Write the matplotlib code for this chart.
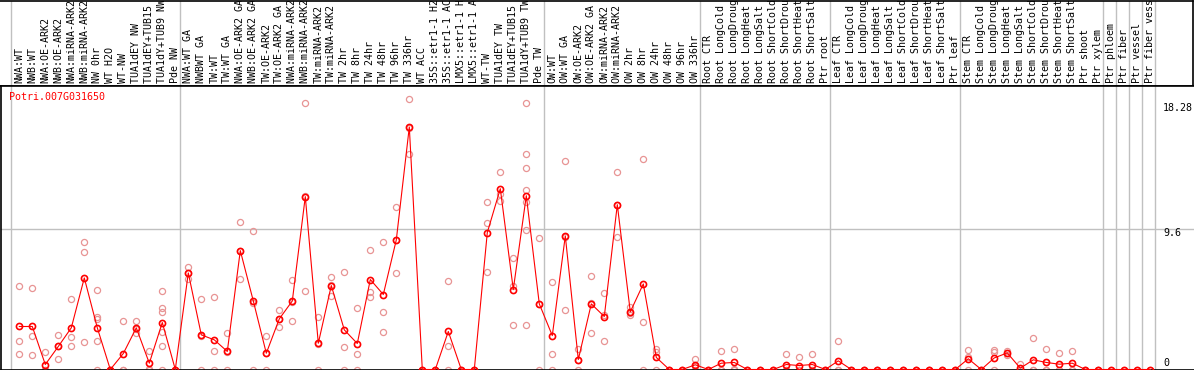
import matplotlib
matplotlib.use("Agg")
import matplotlib.pyplot as plt
import matplotlib.transforms as mtransforms

GENE = "Potri.007G031650"

LABELS = [
    "NWA:WT", "NWB:WT", "NWA:OE-ARK2", "NWB:OE-ARK2", "NWA:miRNA-ARK2", "NWB:miRNA-ARK2",
    "NW 0hr", "WT H2O", "WT-NW", "TUA1dEY NW", "TUA1dEY+TUB15 NW", "TUA1dY+TUB9 NW", "Pde NW",
    "NWA:WT GA", "NWBWT GA", "TW:WT", "TW:WT GA", "NWA:OE-ARK2 GA", "NWB:OE-ARK2 GA",
    "TW:OE-ARK2", "TW:OE-ARK2 GA", "NWA:miRNA-ARK2 GA", "NWB:miRNA-ARK2 GA", "TW:miRNA-ARK2",
    "TW:miRNA-ARK2 GA", "TW 2hr", "TW 8hr", "TW 24hr", "TW 48hr", "TW 96hr", "TW 336hr",
    "WT ACC", "35S::etr1-1 H2O", "35S::etr1-1 ACC", "LMX5::etr1-1 H2O", "LMX5::etr1-1 ACC",
    "WT-TW", "TUA1dEY TW", "TUA1dEY+TUB15 TW", "TUA1dY+TUB9 TW", "Pde TW",
    "OW:WT", "OW:WT GA", "OW:OE-ARK2", "OW:OE-ARK2 GA", "OW:miRNA-ARK2", "OW:miRNA-ARK2 GA",
    "OW 2hr", "OW 8hr", "OW 24hr", "OW 48hr", "OW 96hr", "OW 336hr",
    "Root CTR", "Root LongCold", "Root LongDrought", "Root LongHeat", "Root LongSalt",
    "Root ShortCold", "Root ShortDrought", "Root ShortHeat", "Root ShortSalt", "Ptr root",
    "Leaf CTR", "Leaf LongCold", "Leaf LongDrought", "Leaf LongHeat", "Leaf LongSalt",
    "Leaf ShortCold", "Leaf ShortDrought", "Leaf ShortHeat", "Leaf ShortSalt", "Ptr leaf",
    "Stem CTR", "Stem LongCold", "Stem LongDrought", "Stem LongHeat", "Stem LongSalt",
    "Stem ShortCold", "Stem ShortDrought", "Stem ShortHeat", "Stem ShortSalt", "Ptr shoot",
    "Ptr xylem", "Ptr phloem", "Ptr fiber", "Ptr vessel", "Ptr fiber vessel",
]

# first sample index of each group
GROUP_STARTS = [0, 13, 41, 53, 63, 73, 84, 85, 86, 87, 88]

MEANS = [
    2.93, 2.93, 0.34, 1.57, 2.84, 6.24, 2.84, 0.0, 1.09, 2.84, 0.43, 3.20, 0.0,
    6.58, 2.36, 2.02, 1.23, 8.10, 4.67, 1.11, 3.45, 4.67, 11.78, 1.79, 5.72, 2.70,
    1.77, 6.13, 5.11, 8.83, 16.52, 0.0, 0.0, 2.59, 0.0, 0.0, 9.33, 12.32, 5.45, 11.84, 4.47,
    2.31, 9.10, 0.68, 4.47, 3.61, 11.23, 3.93, 5.83, 0.82, 0.0, 0.0, 0.32,
    0.0, 0.43, 0.48, 0.0, 0.0, 0.0, 0.34, 0.27, 0.34, 0.0,
    0.59, 0.0, 0.0, 0.0, 0.0, 0.0, 0.0, 0.0, 0.0, 0.0,
    0.73, 0.0, 0.79, 1.13, 0.09, 0.66, 0.48, 0.36, 0.43, 0.0, 0.0,
    0.0, 0.0, 0.0, 0.0,
]

REPLICATES = [
    [5.72, 1.95, 1.09], [5.58, 2.29, 1.02], [1.16, 0.0, 0.0], [2.36, 1.62, 0.73],
    [4.77, 2.22, 1.61], [8.71, 8.03, 1.88], [5.45, 3.60, 3.45, 1.91, 0.0], [0.0, 0.0, 0.0],
    [3.31, 0.0, 0.0], [3.29, 2.73, 2.50], [1.25, 0.05, 0.0], [5.38, 4.22, 3.90, 2.54, 1.57, 0.0],
    [0.0, 0.0, 0.0],
    [6.97, 6.60, 6.17], [4.77, 2.31, 0.0], [4.95, 1.23, 0.0], [2.52, 1.17, 0.0],
    [10.07, 8.06, 6.17], [9.46, 4.55, 0.0], [2.25, 1.10, 0.0], [4.04, 3.45, 2.88],
    [6.13, 4.57, 3.31], [18.15, 11.80, 5.38], [3.61, 1.76, 0.0], [6.33, 5.79, 5.04],
    [6.67, 1.50, 0.0], [4.22, 1.07, 0.0], [8.17, 5.26, 4.92], [8.71, 3.95, 2.56],
    [11.10, 8.80, 6.60], [18.43, 16.45, 14.68], [0.0, 0.0, 0.0], [0.0, 0.0, 0.0],
    [6.06, 1.63, 0.0], [0.0, 0.0, 0.0], [0.0, 0.0, 0.0], [11.41, 10.01, 6.67],
    [13.46, 11.96, 11.50], [7.62, 5.72, 3.06], [18.15, 14.68, 13.75, 12.25, 11.44, 9.51, 3.06],
    [8.96, 4.45, 0.0],
    [5.99, 1.09, 0.0], [14.20, 9.02, 4.08], [1.41, 0.63, 0.0], [6.38, 4.51, 2.52],
    [5.24, 3.68, 1.91], [13.46, 11.18, 9.05], [4.24, 3.87, 3.68], [14.36, 3.27, 0.0],
    [1.41, 1.18, 0.0], [0.0, 0.0, 0.0], [0.0, 0.0, 0.0], [0.73, 0.23, 0.0],
    [0.0, 0.0, 0.0], [1.29, 0.0, 0.0], [1.41, 0.03, 0.0], [0.0, 0.0, 0.0], [0.0, 0.0, 0.0],
    [0.0, 0.0, 0.0], [1.09, 0.0, 0.0], [0.88, 0.0, 0.0], [1.09, 0.0, 0.0], [0.0, 0.0, 0.0],
    [1.95, 0.0, 0.0], [0.0, 0.0, 0.0], [0.0, 0.0, 0.0], [0.0, 0.0, 0.0], [0.0, 0.0, 0.0],
    [0.0, 0.0, 0.0], [0.0, 0.0, 0.0], [0.0, 0.0, 0.0], [0.0, 0.0, 0.0], [0.0, 0.0, 0.0],
    [1.34, 0.85, 0.0], [0.0, 0.0, 0.0], [1.34, 1.18, 0.0], [1.25, 1.13, 1.0],
    [0.36, 0.0, 0.0], [2.16, 0.0, 0.0], [1.41, 0.0, 0.0], [1.13, 0.0, 0.0], [1.27, 0.0, 0.0],
    [0.0, 0.0, 0.0], [0.0, 0.0, 0.0],
    [0.0], [0.0], [0.0], [0.0],
]

GRID_VALUE = 9.6
MAX_VALUE = 18.28

W, H = 1194, 370
FONT = "DejaVu Sans Mono"
FS = 7.2
GRAY = "#c0c0c0"


def px_axes(fig, x0, y0, x1, y1):
    return fig.add_axes([x0 / W, 1 - y1 / H, (x1 - x0) / W, (y1 - y0) / H])


def idx_lim(x0, x1):
    # sample i sits at pixel 19.3 + 13 * i
    return (x0 - 19.3) / 13, (x1 - 19.3) / 13


fig = plt.figure(figsize=(W / 100, H / 100), dpi=100)

# header with the sample names
hx = px_axes(fig, 0, 0.5, 1192.5, 85.5)
hx.set_xlim(*idx_lim(0, 1192.5))
hx.set_ylim(0, 1)
hx.set_xticks([])
hx.set_yticks([])
hx.spines["left"].set_visible(False)
for s in ["top", "right", "bottom"]:
    hx.spines[s].set_linewidth(1.2)
for i, lab in enumerate(LABELS):
    hx.text(i, 0.025, lab, rotation=90, ha="center", va="bottom",
            family=FONT, fontsize=FS, clip_on=True)
for g in GROUP_STARTS:
    hx.axvline(g - 0.64, color=GRAY, lw=1.0, zorder=0)

# main plot
ax = px_axes(fig, 1, 85.5, 1194, 369.5)
ax.set_xlim(*idx_lim(1, 1194))
ax.set_ylim(0, 2 * GRID_VALUE + 0.15)
ax.set_xticks([])
ax.set_yticks([])
ax.spines["right"].set_visible(False)
for s in ["top", "left", "bottom"]:
    ax.spines[s].set_linewidth(1.2)

for g in GROUP_STARTS:
    ax.axvline(g - 0.64, color=GRAY, lw=1.0, zorder=0)
ax.axhline(GRID_VALUE, color=GRAY, lw=1.0, zorder=0)

xs, ys = [], []
for i, vals in enumerate(REPLICATES):
    xs += [i] * len(vals)
    ys += vals
ax.plot(xs, ys, "o", ls="none", ms=4.4, mfc="none", mec="#e89494", mew=0.9, zorder=2)

ax.plot(range(len(MEANS)), MEANS, "-", color="red", lw=0.8, zorder=3)
ax.plot(range(len(MEANS)), MEANS, "o", ls="none", ms=4.4, mfc="none", mec="red", mew=1.2, zorder=4)

ax.text(0.0067, 0.96, GENE, transform=ax.transAxes, color="red", family=FONT,
        fontsize=FS, ha="left", va="center")

trans = mtransforms.blended_transform_factory(ax.transAxes, ax.transData)
right_x = (1163 - 1) / 1193
ax.annotate(f"{MAX_VALUE:g}", (right_x, MAX_VALUE), xycoords=trans, xytext=(0, -5),
            textcoords="offset points", ha="left", va="center", family=FONT, fontsize=FS)
ax.annotate(f"{GRID_VALUE:g}", (right_x, GRID_VALUE), xycoords=trans, xytext=(0, -3),
            textcoords="offset points", ha="left", va="center", family=FONT, fontsize=FS)
ax.annotate("0", (right_x, 0), xycoords=trans, xytext=(0, 5),
            textcoords="offset points", ha="left", va="center", family=FONT, fontsize=FS)

fig.savefig("out.png", dpi=100)
